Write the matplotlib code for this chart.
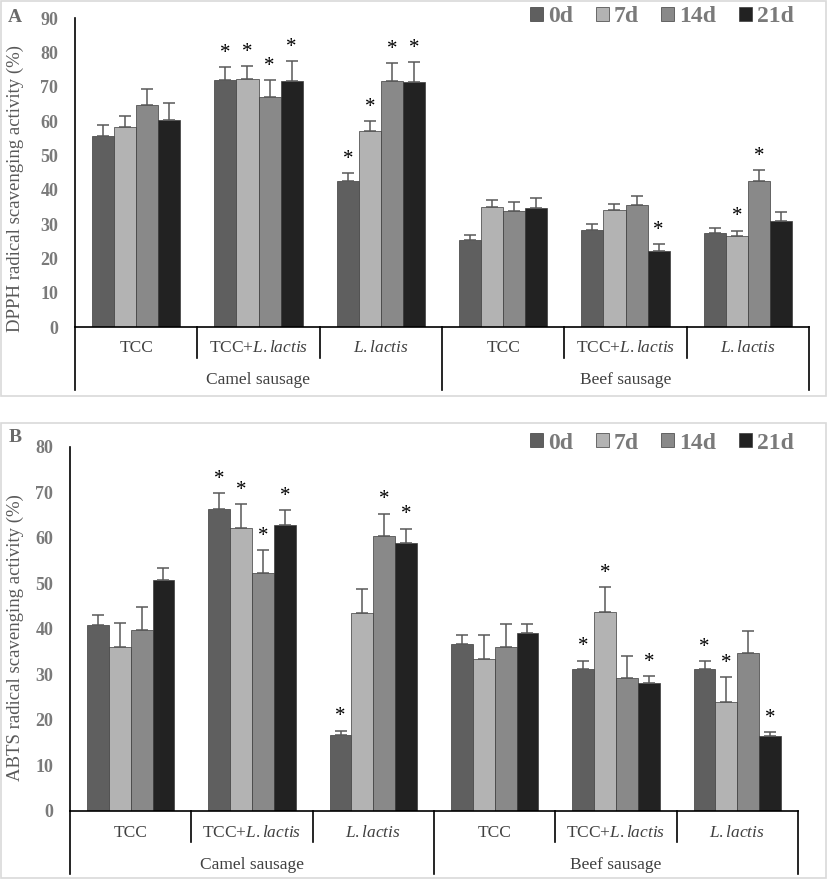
import numpy as np
import matplotlib
matplotlib.use("Agg")
import matplotlib.pyplot as plt
from matplotlib.patches import Patch, Rectangle
from matplotlib.transforms import blended_transform_factory

plt.rcParams["font.family"] = ["Liberation Serif", "DejaVu Serif"]
plt.rcParams["mathtext.fontset"] = "custom"
plt.rcParams["mathtext.rm"] = "Liberation Serif"
plt.rcParams["mathtext.it"] = "Liberation Serif:italic"

# ---- data -------------------------------------------------------------------
days = ["0d", "7d", "14d", "21d"]
treatments = ["TCC", "TCC+$\\it{L.lactis}$", "$\\it{L.lactis}$"] * 2
sausages = ["Camel sausage", "Beef sausage"]

# rows = day, cols = group (camel TCC, camel TCC+L, camel L, beef TCC, beef TCC+L, beef L)
dpph_mean = [
    [55.8, 72.0, 42.6, 25.5, 28.4, 27.4],
    [58.4, 72.2, 57.1, 35.1, 34.1, 26.6],
    [64.7, 67.1, 71.8, 33.8, 35.5, 42.7],
    [60.4, 71.7, 71.4, 34.8, 22.2, 31.0],
]
dpph_err = [
    [3.0, 3.7, 2.3, 1.3, 1.6, 1.4],
    [3.1, 3.9, 3.0, 1.9, 1.8, 1.5],
    [4.7, 4.9, 5.1, 2.6, 2.6, 3.1],
    [5.0, 5.9, 5.9, 2.9, 2.0, 2.4],
]
dpph_star = [
    [0, 1, 1, 0, 0, 0],
    [0, 1, 1, 0, 0, 1],
    [0, 1, 1, 0, 0, 1],
    [0, 1, 1, 0, 1, 0],
]

abts_mean = [
    [40.9, 66.3, 16.7, 36.6, 31.2, 31.2],
    [35.9, 62.1, 43.4, 33.3, 43.7, 23.9],
    [39.8, 52.2, 60.4, 36.0, 29.2, 34.6],
    [50.7, 62.9, 58.9, 39.0, 28.1, 16.4],
]
abts_err = [
    [2.2, 3.5, 0.9, 2.0, 1.8, 1.6],
    [5.4, 5.3, 5.3, 5.3, 5.4, 5.4],
    [4.9, 5.0, 4.9, 5.0, 4.9, 5.0],
    [2.6, 3.2, 3.1, 2.0, 1.5, 0.9],
]
abts_star = [
    [0, 1, 1, 0, 1, 1],
    [0, 1, 0, 0, 1, 1],
    [0, 1, 1, 0, 0, 0],
    [0, 1, 1, 0, 1, 1],
]

colors = ["#5f5f5f", "#b3b3b3", "#898989", "#222222"]
W, H = 827, 880

fig = plt.figure(figsize=(W / 100, H / 100), dpi=100)


def px_box(left, right, bottom, top):
    # pixel coords (y from top) -> figure fraction rect
    return [left / W, 1 - bottom / H, (right - left) / W, (bottom - top) / H]


def panel(rect, mean, err, star, ymax, ylabel, letter, letter_xy, leg_y,
          lab_dy, ylab_xy):
    ax = fig.add_axes(rect)
    n = len(mean[0])
    x = np.arange(n) + 0.5
    bw = 0.18
    for d in range(4):
        xs = x + (d - 1.5) * bw
        ax.bar(xs, mean[d], width=bw, color=colors[d], edgecolor="#3c3c3c",
               linewidth=0.5, label=days[d], zorder=2)
        ax.errorbar(xs, mean[d], yerr=[np.zeros(n), err[d]], fmt="none",
                    ecolor="#595959", elinewidth=1.1, capsize=4.5,
                    capthick=1.1, zorder=3)
        for i in range(n):
            if star[d][i]:
                ax.annotate("*", (xs[i], mean[d][i] + err[d][i]),
                            xytext=(0, 3), textcoords="offset points",
                            ha="center", va="bottom", fontsize=15,
                            color="black")
    ax.set_xlim(0, n)
    ax.set_ylim(0, ymax)
    ax.set_yticks(np.arange(0, ymax + 1, 10))
    ax.set_xticks([])
    ax.tick_params(axis="y", length=0, pad=12, labelsize=13,
                   labelcolor="#7a7a7a")
    for t in ax.get_yticklabels():
        t.set_fontweight("bold")
    for s in ["top", "right"]:
        ax.spines[s].set_visible(False)
    ax.spines["left"].set_linewidth(1.2)
    ax.spines["bottom"].set_linewidth(1.2)
    ax.set_ylabel(ylabel, fontsize=13.5, color="#595959")
    ax.yaxis.set_label_coords(*ylab_xy)

    # hierarchical category axis
    h_px = rect[3] * H
    tr = blended_transform_factory(ax.transData, ax.transAxes)
    d1, d2 = 31 / h_px, 63 / h_px
    for b in range(n + 1):
        depth = d2 if b % 3 == 0 else d1
        ax.plot([b, b], [0, -depth], color="black", lw=1.2, transform=tr,
                clip_on=False)
    for i in range(n):
        ax.text(i + 0.5, -lab_dy[0] / h_px, treatments[i], transform=tr,
                ha="center", va="center", fontsize=12.5, color="#404040")
    for j, s in enumerate(sausages):
        ax.text(j * 3 + 1.5, -lab_dy[1] / h_px, s, transform=tr,
                ha="center", va="center", fontsize=12.5, color="#404040")

    handles = [Patch(facecolor=c, edgecolor="#3c3c3c", linewidth=0.5)
               for c in colors]
    leg = fig.legend(handles, days, ncol=4, loc="center right",
                     bbox_to_anchor=(794 / W, 1 - leg_y / H),
                     frameon=False, handlelength=0.55, handleheight=0.55,
                     handletextpad=0.22, columnspacing=0.95,
                     borderpad=0, borderaxespad=0,
                     prop={"weight": "bold", "size": 17})
    for t in leg.get_texts():
        t.set_color("#7a7a7a")

    fig.text(letter_xy[0] / W, 1 - letter_xy[1] / H, letter, fontsize=14,
             fontweight="bold", color="#6a6a6a", ha="center", va="center")
    return ax


# panel frames
fig.patches.append(Rectangle((1 / W, 1 - 396 / H), 825 / W, 395 / H,
                             transform=fig.transFigure, fill=False,
                             edgecolor="#d9d9d9", lw=1.2))
fig.patches.append(Rectangle((1 / W, 1 - 878 / H), 825 / W, 455 / H,
                             transform=fig.transFigure, fill=False,
                             edgecolor="#d9d9d9", lw=1.2))

panel(px_box(75, 809, 327, 18.3), dpph_mean, dpph_err, dpph_star, 90,
      "DPPH radical scavenging activity (%)", "A", (15, 18), 17,
      (21, 53), (-0.0695, 0.45))
panel(px_box(70, 798, 810.7, 446.7), abts_mean, abts_err, abts_star, 80,
      "ABTS radical scavenging activity (%)", "B", (15, 437), 443,
      (22, 54), (-0.063, 0.477))

fig.savefig("out.png", dpi=100)
